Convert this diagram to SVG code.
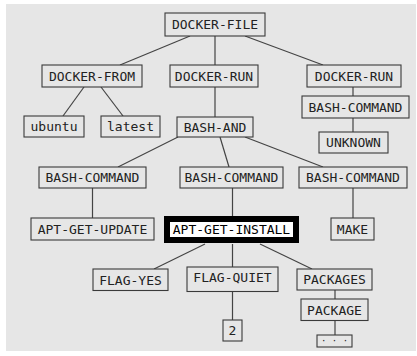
<svg xmlns="http://www.w3.org/2000/svg" width="417" height="356" viewBox="0 0 417 356">
<style>
.bg{fill:#e6e6e6}
.box{fill:#e6e6e6;stroke:#3a3a3a;stroke-width:1.1}
.hl{fill:#fff;stroke:#000;stroke-width:6}
.t{font-family:"DejaVu Sans Mono","Liberation Mono",monospace;font-size:13px;fill:#222;text-anchor:middle}
.c line{stroke:#444;stroke-width:1.2}
</style>
<rect class="bg" x="6" y="4" width="410" height="347"/>
<g class="c" id="connectors">
<line x1="190" y1="36" x2="120" y2="65"/>
<line x1="215" y1="36" x2="215" y2="65"/>
<line x1="245" y1="36" x2="323" y2="65"/>
<line x1="84" y1="87" x2="63" y2="116"/>
<line x1="101" y1="87" x2="123" y2="116"/>
<line x1="215" y1="87" x2="215" y2="117"/>
<line x1="353" y1="87" x2="353" y2="96"/>
<line x1="353" y1="118" x2="353" y2="132"/>
<line x1="178" y1="137" x2="118" y2="167"/>
<line x1="220" y1="137" x2="229" y2="167"/>
<line x1="245" y1="137" x2="323" y2="167"/>
<line x1="92.5" y1="188" x2="92.5" y2="218"/>
<line x1="232.5" y1="188" x2="232.5" y2="216"/>
<line x1="353" y1="188" x2="353" y2="218"/>
<line x1="205" y1="244" x2="154" y2="269"/>
<line x1="232.5" y1="244" x2="232.5" y2="267"/>
<line x1="260" y1="244" x2="312" y2="269"/>
<line x1="232.5" y1="291.5" x2="232.5" y2="320"/>
<line x1="335" y1="290" x2="335" y2="299"/>
<line x1="335" y1="321" x2="335" y2="335"/>
</g>
<g id="docker-file"><rect class="box" x="165" y="13" width="100" height="23"/><text class="t" x="215" y="29.2">DOCKER-FILE</text></g>
<g id="docker-from"><rect class="box" x="42" y="65" width="100" height="22"/><text class="t" x="92" y="80.7">DOCKER-FROM</text></g>
<g id="docker-run-1"><rect class="box" x="170" y="65" width="88" height="22"/><text class="t" x="214" y="80.7">DOCKER-RUN</text></g>
<g id="docker-run-2"><rect class="box" x="307" y="65" width="94" height="22"/><text class="t" x="354" y="80.7">DOCKER-RUN</text></g>
<g id="bash-command-top"><rect class="box" x="302" y="96" width="107" height="22"/><text class="t" x="355.5" y="111.7">BASH-COMMAND</text></g>
<g id="unknown"><rect class="box" x="319" y="132" width="69" height="21"/><text class="t" x="353.5" y="147.2">UNKNOWN</text></g>
<g id="ubuntu"><rect class="box" x="24" y="116" width="60" height="21"/><text class="t" x="54" y="131.2">ubuntu</text></g>
<g id="latest"><rect class="box" x="101" y="116" width="59" height="21"/><text class="t" x="130.5" y="131.2">latest</text></g>
<g id="bash-and"><rect class="box" x="177" y="117" width="76" height="20"/><text class="t" x="215" y="131.7">BASH-AND</text></g>
<g id="bash-command-1"><rect class="box" x="39" y="167" width="107" height="21"/><text class="t" x="92.5" y="182.2">BASH-COMMAND</text></g>
<g id="bash-command-2"><rect class="box" x="180" y="167" width="103" height="21"/><text class="t" x="231.5" y="182.2">BASH-COMMAND</text></g>
<g id="bash-command-3"><rect class="box" x="299" y="167" width="108" height="21"/><text class="t" x="353" y="182.2">BASH-COMMAND</text></g>
<g id="apt-get-update"><rect class="box" x="31" y="218" width="123" height="22"/><text class="t" x="92.5" y="233.7">APT-GET-UPDATE</text></g>
<g id="apt-get-install"><rect class="hl" x="167" y="219" width="129" height="21"/><text class="t" x="231.5" y="234.2" style="fill:#000">APT-GET-INSTALL</text></g>
<g id="make"><rect class="box" x="331" y="218" width="43" height="22"/><text class="t" x="352.5" y="233.7">MAKE</text></g>
<g id="flag-yes"><rect class="box" x="93" y="269" width="75" height="21.5"/><text class="t" x="130.5" y="284.5">FLAG-YES</text></g>
<g id="flag-quiet"><rect class="box" x="187" y="267" width="91" height="24.5"/><text class="t" x="232.5" y="281.5">FLAG-QUIET</text></g>
<g id="packages"><rect class="box" x="297" y="269" width="75" height="21"/><text class="t" x="334.5" y="284.2">PACKAGES</text></g>
<g id="two"><rect class="box" x="223" y="320" width="19" height="21"/><text class="t" x="232.5" y="335.2">2</text></g>
<g id="package"><rect class="box" x="301" y="299" width="67" height="21.5"/><text class="t" x="334.5" y="314.5">PACKAGE</text></g>
<g id="ellipsis"><rect class="box" x="317" y="335" width="35" height="12"/><text class="t" x="334.5" y="344" style="font-size:9px">· · ·</text></g>
</svg>
